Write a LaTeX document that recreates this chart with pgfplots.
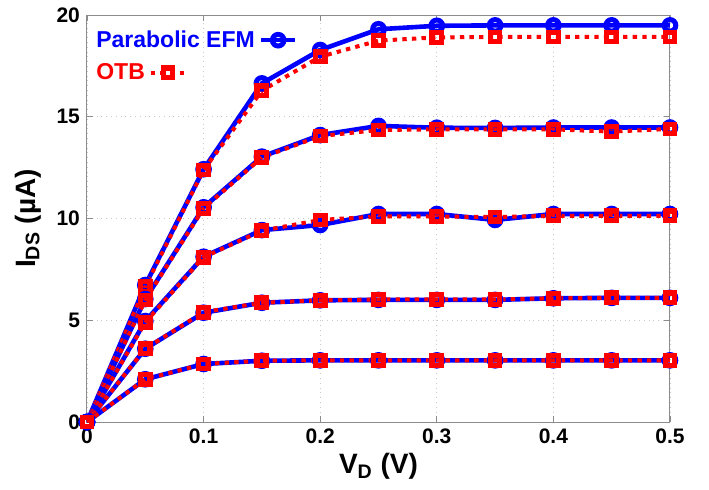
\documentclass[border=0pt]{standalone}
\usepackage{pgfplots}
\pgfplotsset{compat=1.18}
\usepackage{fontspec}
\setmainfont{Liberation Sans}

\pgfplotsset{
  efm/.style={blue, line width=2.3pt, mark=o, mark size=2.9pt, mark options={solid, line width=2.5pt}},
  otb/.style={red, line width=2pt, dash pattern=on 2.2pt off 2.6pt, mark=square, mark size=2.4pt, mark options={solid, line width=2.6pt}},
  frame/.style={at={(0,0)}, anchor=south west,
    scale only axis, width=291.5pt, height=203.5pt,
    xmin=0, xmax=0.5, ymin=0, ymax=20},
  leg/.style={legend plot pos=right,
    legend style={draw=none, fill=none, anchor=north west,
                  font=\fontsize{11.5}{13}\selectfont\bfseries, inner sep=1pt},
    legend cell align=left},
}

\begin{document}
\begin{tikzpicture}
\useasboundingbox (-43.5pt,-33.5pt) rectangle (311pt,211pt);
\begin{axis}[
    frame, leg,
    legend style={at={(0.005,0.978)}},
    xtick={0,0.1,0.2,0.3,0.4,0.5},
    ytick={0,5,10,15,20},
    xticklabel style={/pgf/number format/fixed, /pgf/number format/precision=1},
    /pgf/number format/assume math mode=true,
    tick label style={font=\fontsize{10.5}{12}\selectfont\bfseries},
    tick align=inside, major tick length=3pt,
    tick style={black!45, line width=0.4pt},
    axis line style={black!45, line width=0.5pt},
    grid=major,
    major grid style={black!22, dotted, line width=0.4pt},
    xlabel={V\textsubscript{D} (V)},
    ylabel={I\textsubscript{DS} (\textmu A)},
    label style={font=\fontsize{14}{16}\selectfont\bfseries},
    xlabel style={yshift=2pt},
    ylabel style={yshift=1pt},
]
\addplot[efm] coordinates {(0,0) (0.05,6.73) (0.1,12.42) (0.15,16.64) (0.2,18.28) (0.25,19.3) (0.3,19.47) (0.35,19.49) (0.4,19.49) (0.45,19.49) (0.5,19.49)};
\addlegendentry{\textcolor{blue}{Parabolic EFM}}
\addplot[otb, forget plot] coordinates {(0,0) (0.05,6.65) (0.1,12.38) (0.15,16.28) (0.2,17.95) (0.25,18.74) (0.3,18.9) (0.35,18.92) (0.4,18.92) (0.45,18.92) (0.5,18.92)};

\addplot[efm, forget plot] coordinates {(0,0) (0.05,6.04) (0.1,10.55) (0.15,13.04) (0.2,14.1) (0.25,14.55) (0.3,14.46) (0.35,14.45) (0.4,14.47) (0.45,14.47) (0.5,14.47)};
\addplot[otb, forget plot] coordinates {(0,0) (0.05,6.0) (0.1,10.5) (0.15,13.0) (0.2,14.05) (0.25,14.35) (0.3,14.38) (0.35,14.38) (0.4,14.38) (0.45,14.27) (0.5,14.4)};

\addplot[efm, forget plot] coordinates {(0,0) (0.05,4.96) (0.1,8.12) (0.15,9.43) (0.2,9.68) (0.25,10.22) (0.3,10.22) (0.35,9.93) (0.4,10.22) (0.45,10.22) (0.5,10.22)};
\addplot[otb, forget plot] coordinates {(0,0) (0.05,4.9) (0.1,8.1) (0.15,9.4) (0.2,9.93) (0.25,10.1) (0.3,10.1) (0.35,10.07) (0.4,10.13) (0.45,10.13) (0.5,10.13)};

\addplot[efm, forget plot] coordinates {(0,0) (0.05,3.6) (0.1,5.37) (0.15,5.86) (0.2,5.98) (0.25,6.0) (0.3,6.0) (0.35,6.0) (0.4,6.08) (0.45,6.1) (0.5,6.1)};
\addplot[otb, forget plot] coordinates {(0,0) (0.05,3.6) (0.1,5.4) (0.15,5.86) (0.2,5.98) (0.25,6.02) (0.3,6.02) (0.35,6.02) (0.4,6.08) (0.45,6.1) (0.5,6.1)};

\addplot[efm, forget plot] coordinates {(0,0) (0.05,2.1) (0.1,2.85) (0.15,3.01) (0.2,3.03) (0.25,3.03) (0.3,3.03) (0.35,3.03) (0.4,3.03) (0.45,3.03) (0.5,3.03)};
\addplot[otb, forget plot] coordinates {(0,0) (0.05,2.1) (0.1,2.85) (0.15,3.01) (0.2,3.03) (0.25,3.03) (0.3,3.03) (0.35,3.03) (0.4,3.03) (0.45,3.03) (0.5,3.03)};
\end{axis}
% second, hidden axis only for the OTB legend row (its sample sits right after the text)
\begin{axis}[frame, leg, hide axis, legend style={at={(0.005,0.897)}}]
\addlegendimage{otb}
\addlegendentry{\textcolor{red}{OTB}\hspace{4pt}}
\end{axis}
\end{tikzpicture}
\end{document}
